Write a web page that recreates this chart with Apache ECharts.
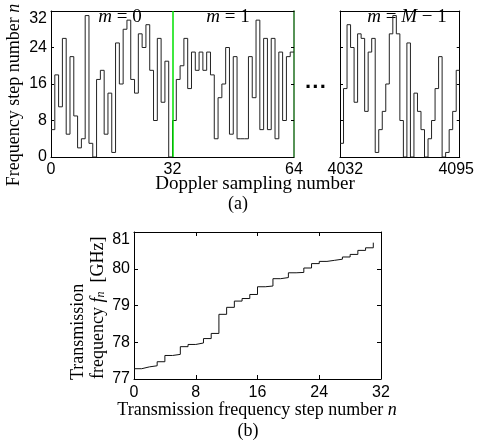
<!DOCTYPE html>
<html><head><meta charset="utf-8">
<script src="https://cdn.jsdelivr.net/npm/echarts@6/dist/echarts.min.js"></script>
<style>html,body{margin:0;padding:0;background:#fff}#c{width:477px;height:441px}</style>
</head><body><div id="c"></div>
<script>
// ---- data ----
const dopplerSteps = [6,18,11,26,5,22,9,2,4,31,3,0,17,19,5,14,1,25,16,28,30,17,14,27,24,29,19,8,26,12,21,0,
  8,17,20,26,15,23,19,23,19,23,18,4,13,16,24,5,22,4,4,4,22,13,30,6,26,6,26,4,23,8,22,23];
const lastChirpSteps = [3,15,29,24,12,27,26,10,23,26,1,6,10,16,27,31,27,8,0,25,0,14,10,6,0,4,8,15,22,0,1,6,10,19];
const lastChirpStart = 4029;
const lastChirpSampleWidth = 2;
const freqGHz = [77.28,77.33,77.36,77.47,77.64,77.67,77.88,77.94,77.98,78.10,78.24,78.76,78.95,79.12,79.19,79.30,
  79.51,79.53,79.73,79.76,79.89,79.90,80.02,80.14,80.20,80.23,80.26,80.32,80.39,80.50,80.57,80.71];
const xTicksA = [0, 32, 64];
const xTicksA2 = [4032, 4095];
const yTicksA = [0, 8, 16, 24, 32];
const xTicksB = [0, 8, 16, 24, 32];
const yTicksB = [77, 78, 79, 80, 81];

// ---- build ----
const SERIF = "'Liberation Serif','Times New Roman',serif";
const SANS = "'Liberation Sans',Arial,sans-serif";
const leftData = dopplerSteps.map((v, i) => [i, v]);
leftData.push([dopplerSteps.length, dopplerSteps[dopplerSteps.length - 1]]);
const rightData = lastChirpSteps.map((v, i) => [lastChirpStart + i * lastChirpSampleWidth, v]);
rightData.push([lastChirpStart + lastChirpSteps.length * lastChirpSampleWidth, lastChirpSteps[lastChirpSteps.length - 1]]);
const bData = freqGHz.map((v, i) => [i, v]);

const lineBlack = { show: true, onZero: false, lineStyle: { color: '#000', width: 1 } };
const lbl = { fontFamily: SANS, fontSize: 16, color: '#000', formatter: v => String(v) };
const tickIn = (len) => ({ show: true, inside: true, length: len, lineStyle: { color: '#000' } });

function xAx(grid, pos, min, max, opts) {
  return Object.assign({
    type: 'value', gridIndex: grid, position: pos, min: min, max: max,
    axisLine: lineBlack, splitLine: { show: false },
    axisTick: { show: false }, axisLabel: { show: false }
  }, opts || {});
}
function yAx(grid, pos, min, max, interval, len, opts) {
  return Object.assign({
    type: 'value', gridIndex: grid, position: pos, min: min, max: max, interval: interval,
    axisLine: lineBlack, splitLine: { show: false },
    axisTick: tickIn(len), axisLabel: { show: false }
  }, opts || {});
}
const rightEnd = lastChirpStart + lastChirpSteps.length * lastChirpSampleWidth;

const option = {
  animation: false,
  grid: [
    { left: 51, top: 11, width: 243, height: 146 },
    { left: 340, top: 11, width: 126, height: 146 },
    { left: 134, top: 232, width: 247, height: 147 }
  ],
  xAxis: [
    xAx(0, 'bottom', 0, 64, { interval: 32, axisLabel: Object.assign({ show: true, margin: 5, customValues: xTicksA }, lbl) }),
    xAx(0, 'top', 0, 64),
    xAx(1, 'bottom', lastChirpStart, rightEnd, { axisLabel: Object.assign({ show: true, margin: 5, customValues: xTicksA2 }, lbl) }),
    xAx(1, 'top', lastChirpStart, rightEnd),
    xAx(2, 'bottom', 0, 32, { interval: 8, axisTick: tickIn(4),
      axisLabel: Object.assign({ show: true, margin: 6, customValues: xTicksB }, lbl) }),
    xAx(2, 'top', 0, 32, { interval: 8, axisTick: tickIn(4) })
  ],
  yAxis: [
    yAx(0, 'left', 0, 32, 8, 3, { axisLabel: Object.assign({ show: true, margin: 4, customValues: yTicksA, verticalAlignMaxLabel: 'top' }, lbl) }),
    yAx(0, 'right', 0, 32, 8, 3, { axisLine: { show: true, onZero: false, lineStyle: { color: '#1f6f1f', width: 1.5 } } }),
    yAx(1, 'left', 0, 32, 8, 3),
    yAx(1, 'right', 0, 32, 8, 3),
    yAx(2, 'left', 77, 81, 1, 4, { axisLabel: Object.assign({ show: true, margin: 4, customValues: yTicksB, verticalAlignMaxLabel: 'top' }, lbl) }),
    yAx(2, 'right', 77, 81, 1, 4)
  ],
  series: [
    { type: 'line', xAxisIndex: 0, yAxisIndex: 0, step: 'end', data: leftData, symbol: 'none',
      lineStyle: { color: '#222', width: 1 },
      markLine: { silent: true, symbol: 'none', label: { show: false },
        lineStyle: { color: '#00e000', width: 1.5, type: 'solid' }, data: [{ xAxis: 32 }] } },
    { type: 'line', xAxisIndex: 2, yAxisIndex: 2, step: 'end', data: rightData, symbol: 'none',
      lineStyle: { color: '#222', width: 1 } },
    { type: 'line', xAxisIndex: 4, yAxisIndex: 4, step: 'end', data: bData, symbol: 'none',
      lineStyle: { color: '#111', width: 1 } }
  ],
  graphic: []
};

function txt(x, y, text, rich, extra) {
  return Object.assign({
    type: 'text', x: x, y: y, silent: true,
    style: { text: text, rich: rich, align: 'center', verticalAlign: 'middle',
      textAlign: 'center', textVerticalAlign: 'middle', fill: '#000' }
  }, extra || {});
}
function rs(size, italic) {
  return { fontFamily: SERIF, fontSize: size, fontStyle: italic ? 'italic' : 'normal', fill: '#000', color: '#000' };
}
const R18 = { r: rs(18), i: rs(18, true), s: Object.assign(rs(12, true), { verticalAlign: 'bottom' }) };
const R19 = { r: rs(19), i: rs(19, true) };

option.graphic = [
  txt(14.5, 95, '{r|Frequency step number }{i|n}', R18, { rotation: Math.PI / 2 }),
  txt(120, 17, '{i|m}{r| = 0}', R19),
  txt(228, 17, '{i|m}{r| = 1}', R19),
  txt(407, 17, '{i|m}{r| = }{i|M}{r| − 1}', R19),
  txt(316, 88, '{d|···}', { d: { fontFamily: SANS, fontSize: 22, fontWeight: 'bold', fill: '#000' } }),
  txt(255, 184, '{r|Doppler sampling number}', R19),
  txt(238, 204, '{r|(a)}', R18),
  { type: 'text', x: 78, y: 380, rotation: Math.PI / 2, silent: true,
    style: { text: '{r|Transmission}', rich: R18, align: 'left', textAlign: 'left', verticalAlign: 'middle', textVerticalAlign: 'middle' } },
  { type: 'text', x: 98, y: 379, rotation: Math.PI / 2, silent: true,
    style: { text: '{r|frequency }{i|f}{s|n}{r|  [GHz]}', rich: R18, align: 'left', textAlign: 'left', verticalAlign: 'middle', textVerticalAlign: 'middle' } },
  txt(257, 410, '{r|Transmission frequency step number }{i|n}', R18),
  txt(248, 431, '{r|(b)}', R18)
];

const chart = echarts.init(document.getElementById('c'), null, { renderer: 'canvas' });
chart.setOption(option);
</script></body></html>
